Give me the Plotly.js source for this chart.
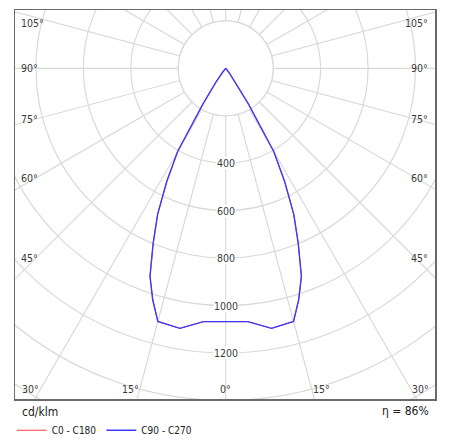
<!DOCTYPE html>
<html>
<head>
<meta charset="utf-8">
<script src="https://cdn.plot.ly/plotly-3.0.1.min.js"></script>
<style>
  html, body { margin: 0; padding: 0; background: #fff; }
  #chart { width: 450px; height: 447px; }
</style>
</head>
<body>
<div id="chart"></div>
<script>
// gamma angles (deg from nadir) and luminous intensity in cd/klm
const gammaAngles = [0, 5, 10, 15, 17.5, 20, 22.5, 25, 27.5, 30, 32.5, 35, 37.5, 40];
const c0c180 = [1069, 1072, 1113, 1105, 1023, 933, 799, 679, 538, 405, 180, 75, 25, 0];
const c90c270 = [1069, 1072, 1113, 1105, 1023, 933, 799, 679, 538, 405, 180, 75, 25, 0];

const ringValues = [200, 400, 600, 800, 1000, 1200, 1400, 1600];
const ringLabels = [400, 600, 800, 1000, 1200];
const sideAngles = [105, 90, 75, 60, 45];
const bottomAngles = [-30, -15, 0, 15, 30];
const unitLabel = "cd/klm";
const efficiencyLabel = "\u03b7 = 86%";

const FONT = "'DejaVu Sans Condensed', 'DejaVu Sans', sans-serif";
const GRID = "#d9d9d9";
const TEXT = "#3a3a3a";
const rad = d => d * Math.PI / 180;

// plane curve: C270 side mirrored to the left, C90 side to the right
function planeXY(values) {
  const x = [];
  const y = [];
  for (let i = gammaAngles.length - 1; i > 0; i--) {
    x.push(-values[i] * Math.sin(rad(gammaAngles[i])));
    y.push(-values[i] * Math.cos(rad(gammaAngles[i])));
  }
  for (let i = 0; i < gammaAngles.length; i++) {
    x.push(values[i] * Math.sin(rad(gammaAngles[i])));
    y.push(-values[i] * Math.cos(rad(gammaAngles[i])));
  }
  return { x, y };
}

const redXY = planeXY(c0c180);
const blueXY = planeXY(c90c270);

const traces = [
  {
    type: "scatter", mode: "lines", name: "C0 - C180",
    x: redXY.x, y: redXY.y,
    line: { color: "#ff3b3b", width: 1 },
    hoverinfo: "skip",
  },
  {
    type: "scatter", mode: "lines", name: "C90 - C270",
    x: blueXY.x, y: blueXY.y,
    line: { color: "#3c3cff", width: 1.4 },
    hoverinfo: "skip",
  },
];

// grid: rays every 15 deg, rings every 200, white hub at 200
const shapes = [];
for (let a = 0; a < 360; a += 15) {
  shapes.push({
    type: "line", layer: "below",
    x0: 0, y0: 0,
    x1: 3000 * Math.sin(rad(a)), y1: -3000 * Math.cos(rad(a)),
    line: { color: GRID, width: 1.2 },
  });
}
ringValues.forEach(r => {
  shapes.push({
    type: "circle", layer: "below",
    x0: -r, x1: r, y0: -r, y1: r,
    fillcolor: "rgba(0,0,0,0)",
    line: { color: GRID, width: 1.2 },
  });
});
shapes.push({
  type: "circle", layer: "below",
  x0: -ringValues[0], x1: ringValues[0], y0: -ringValues[0], y1: ringValues[0],
  fillcolor: "#ffffff",
  line: { color: GRID, width: 1.2 },
});

const labelFont = { family: FONT, size: 10.5, color: TEXT };
const annotations = [];
ringLabels.forEach(v => {
  annotations.push({
    x: 0, y: -v, xref: "x", yref: "y", text: String(v), showarrow: false,
    xanchor: "center", yanchor: "middle", bgcolor: "#ffffff", borderpad: 0,
    font: labelFont,
  });
});
sideAngles.forEach(a => {
  const yy = Math.min(-800 * Math.cos(rad(a)) / Math.sin(rad(a)), 192);
  annotations.push({
    x: -866, y: yy, xref: "x", yref: "y", text: a + "\u00b0", showarrow: false,
    xanchor: "left", yanchor: "middle", borderpad: 0, font: labelFont,
  });
  annotations.push({
    x: 858, y: yy, xref: "x", yref: "y", text: a + "\u00b0", showarrow: false,
    xanchor: "right", yanchor: "middle", borderpad: 0, font: labelFont,
  });
});
const bottomY = -1353;
bottomAngles.forEach(a => {
  annotations.push({
    x: -bottomY * Math.tan(rad(a)), y: bottomY, xref: "x", yref: "y",
    text: Math.abs(a) + "\u00b0", showarrow: false,
    xanchor: a < 0 ? "right" : a > 0 ? "left" : "center", yanchor: "middle", borderpad: 0,
    font: labelFont,
  });
});
annotations.push({
  x: 0.014, y: -0.033, xref: "paper", yref: "paper", text: unitLabel, showarrow: false,
  xanchor: "left", yanchor: "middle", borderpad: 0,
  font: { family: FONT, size: 12, color: "#222" },
});
annotations.push({
  x: 0.987, y: -0.031, xref: "paper", yref: "paper", text: efficiencyLabel, showarrow: false,
  xanchor: "right", yanchor: "middle", borderpad: 0,
  font: { family: FONT, size: 12, color: "#222" },
});

const axisBase = {
  showgrid: false, zeroline: false, showticklabels: false, ticks: "",
  showline: true, mirror: true, linecolor: "#6a6a6a", linewidth: 1.5,
  fixedrange: true,
};

const layout = {
  width: 450, height: 447,
  margin: { l: 15, r: 15, t: 10, b: 48, autoexpand: false },
  paper_bgcolor: "#ffffff", plot_bgcolor: "#ffffff",
  xaxis: { ...axisBase, range: [-888.1, 882.2] },
  yaxis: { ...axisBase, range: [-1393.9, 245.7] },
  shapes,
  annotations,
  showlegend: true,
  legend: {
    orientation: "h", x: -0.008, xanchor: "left", y: -0.043, yanchor: "top",
    font: { family: FONT, size: 10, color: "#222" },
    itemwidth: 30, itemclick: false, itemdoubleclick: false,
    bgcolor: "rgba(0,0,0,0)",
  },
};

Plotly.newPlot("chart", traces, layout, { displayModeBar: false, staticPlot: true });
</script>
</body>
</html>
